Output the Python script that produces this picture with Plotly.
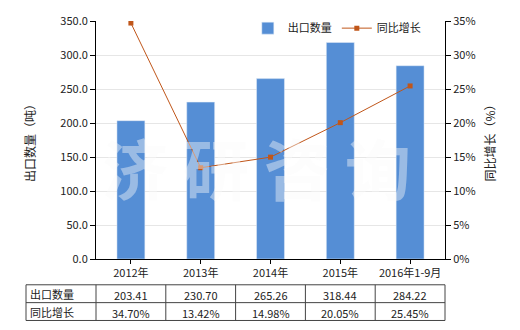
import plotly.graph_objects as go

categories = ["2012年", "2013年", "2014年", "2015年", "2016年1-9月"]
export_qty = [203.41, 230.70, 265.26, 318.44, 284.22]
growth = [34.70, 13.42, 14.98, 20.05, 25.45]
qty_labels = ["203.41", "230.70", "265.26", "318.44", "284.22"]
growth_labels = ["34.70%", "13.42%", "14.98%", "20.05%", "25.45%"]
row_names = ["出口数量", "同比增长"]

W, H = 520, 330
ml, mr, mt, mb = 96, 75, 19, 71
font = "Noto Sans CJK SC, Microsoft YaHei, sans-serif"
bar_color = "#558ED5"
line_color = "#C0561A"

fig = go.Figure()
fig.add_trace(go.Bar(x=categories, y=export_qty, name="出口数量",
                     marker_color=bar_color, width=0.4))
fig.add_trace(go.Scatter(x=categories, y=growth, name="同比增长", yaxis="y2",
                         mode="lines+markers",
                         line=dict(color=line_color, width=1),
                         marker=dict(symbol="square", size=5, color=line_color)))

fig.update_layout(
    width=W, height=H,
    margin=dict(l=ml, r=mr, t=mt, b=mb),
    plot_bgcolor="white", paper_bgcolor="white",
    font=dict(family=font, size=11, color="#222"),
    showlegend=True,
    legend=dict(orientation="h", x=0.435, y=0.97, xanchor="left", yanchor="middle",
                bgcolor="rgba(0,0,0,0)", font=dict(size=11), itemwidth=30,
                traceorder="normal"),
    bargap=0.6,
    xaxis=dict(showline=True, linecolor="black", ticks="outside", ticklen=4,
               tickcolor="black", showgrid=False, tickfont=dict(size=11)),
    yaxis=dict(range=[0, 350], dtick=50, tickformat=".1f", showline=True,
               linecolor="black", ticks="outside", ticklen=5, tickcolor="black",
               gridcolor="#E6E6E6", zeroline=False,
               title=dict(text="出口数量（吨）", font=dict(size=12), standoff=22)),
    yaxis2=dict(range=[0, 35], dtick=5, ticksuffix="%", overlaying="y", side="right",
                showline=True, linecolor="black", ticks="outside", ticklen=5,
                tickcolor="black", showgrid=False, zeroline=False,
                title=dict(text="同比增长（%）", font=dict(size=12), standoff=12)),
)

# watermark
fig.add_annotation(text="济 研 咨 询", xref="paper", yref="paper", x=0.46, y=0.39,
                   showarrow=False,
                   font=dict(size=66, color="rgba(250,250,250,0.42)", family=font,
                             weight="bold"))

# data table below the chart
pw = W - ml - mr
ph = H - mt - mb
n = len(categories)
col_w = pw / n
first_left = 26
row_top = 285
row_h = 18

def px_x(x):
    return (x - ml) / pw

def px_y(y):
    return (H - mb - y) / ph

table_left = first_left
table_right = ml + pw
rows_y = [row_top + i * row_h for i in range(len(row_names) + 1)]
shapes = []
for y in rows_y:
    shapes.append(dict(type="line", xref="paper", yref="paper",
                       x0=px_x(table_left), x1=px_x(table_right),
                       y0=px_y(y), y1=px_y(y), line=dict(color="#444", width=1)))
col_edges = [table_left] + [ml + i * col_w for i in range(n + 1)]
for x in col_edges:
    shapes.append(dict(type="line", xref="paper", yref="paper",
                       x0=px_x(x), x1=px_x(x),
                       y0=px_y(rows_y[0]), y1=px_y(rows_y[-1]),
                       line=dict(color="#444", width=1)))
fig.update_layout(shapes=shapes)

table_rows = [qty_labels, growth_labels]
for r, (name, vals) in enumerate(zip(row_names, table_rows)):
    yc = rows_y[r] + row_h / 2
    fig.add_annotation(text=name, xref="paper", yref="paper", x=px_x(table_left + 2),
                       y=px_y(yc), xanchor="left", yanchor="middle", showarrow=False,
                       font=dict(size=11))
    for i, v in enumerate(vals):
        fig.add_annotation(text=v, xref="paper", yref="paper",
                           x=px_x(ml + (i + 0.5) * col_w), y=px_y(yc + 1),
                           xanchor="center", yanchor="middle", showarrow=False,
                           font=dict(size=11))

fig.write_html("out.html")
